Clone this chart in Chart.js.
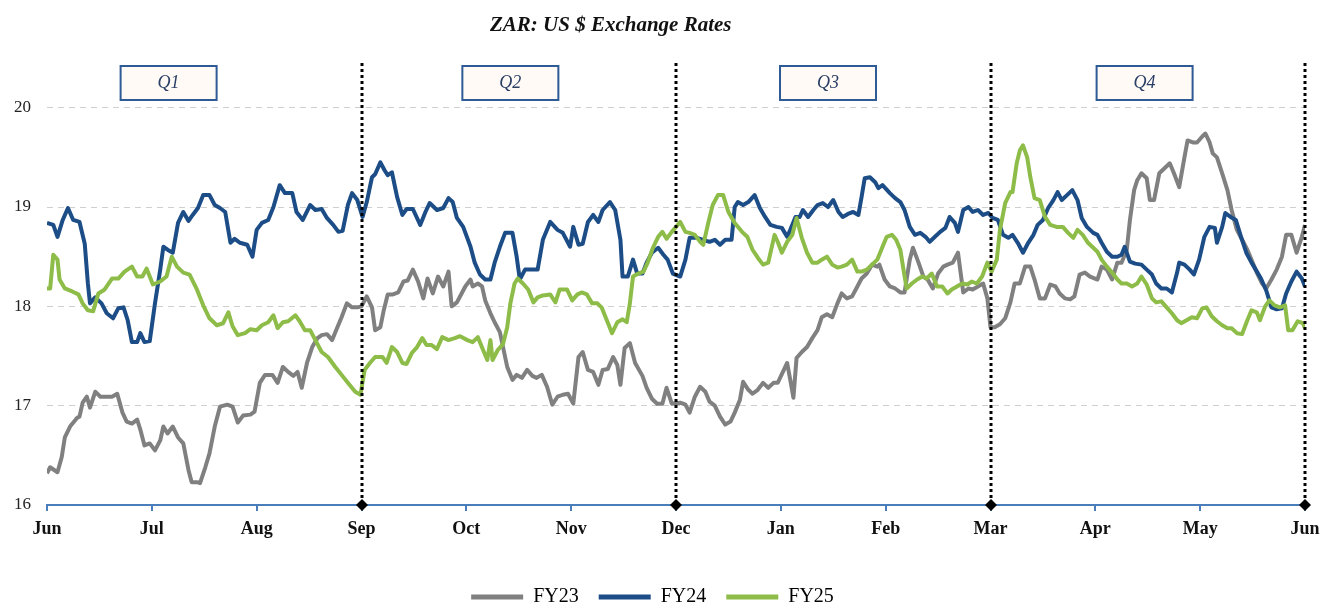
<!DOCTYPE html>
<html>
<head>
<meta charset="utf-8">
<script src="https://cdn.jsdelivr.net/npm/chart.js@4.4.1/dist/chart.umd.min.js"></script>
<style>
  html, body { margin: 0; padding: 0; background: #fff; }
  #wrap { width: 1335px; height: 606px; }
</style>
</head>
<body>
<div id="wrap"><canvas id="chart" width="1335" height="606"></canvas></div>
<script>
// month axis: 0 = start of Jun, 12 = end of May
const monthLabels = ['Jun', 'Jul', 'Aug', 'Sep', 'Oct', 'Nov', 'Dec', 'Jan', 'Feb', 'Mar', 'Apr', 'May', 'Jun'];
const seriesNames = ['FY23', 'FY24', 'FY25'];
const quarterLabels = ['Q1', 'Q2', 'Q3', 'Q4'];
const quarterEnds = [3, 6, 9, 12];

// [month, ZAR per US$]
const fy23 = [[0.00,16.32],[0.03,16.38],[0.10,16.33],[0.14,16.48],[0.17,16.68],[0.22,16.79],[0.29,16.88],[0.31,16.89],[0.34,17.03],[0.38,17.09],[0.41,16.98],[0.46,17.14],[0.51,17.09],[0.57,17.09],[0.62,17.09],[0.67,17.12],[0.72,16.93],[0.76,16.84],[0.81,16.82],[0.86,16.86],[0.89,16.76],[0.93,16.60],[0.98,16.62],[1.03,16.55],[1.08,16.65],[1.11,16.79],[1.15,16.72],[1.20,16.79],[1.25,16.68],[1.30,16.62],[1.35,16.35],[1.38,16.23],[1.43,16.23],[1.46,16.22],[1.51,16.38],[1.55,16.52],[1.60,16.79],[1.65,16.99],[1.72,17.01],[1.77,16.99],[1.82,16.83],[1.87,16.90],[1.94,16.91],[1.98,16.94],[2.03,17.23],[2.08,17.31],[2.15,17.31],[2.20,17.23],[2.25,17.39],[2.30,17.34],[2.35,17.30],[2.39,17.34],[2.43,17.18],[2.48,17.43],[2.53,17.59],[2.58,17.68],[2.62,17.71],[2.67,17.72],[2.72,17.66],[2.77,17.79],[2.81,17.89],[2.86,18.03],[2.91,17.99],[2.96,17.99],[3.00,18.00],[3.05,18.10],[3.10,17.99],[3.13,17.76],[3.18,17.79],[3.21,17.95],[3.25,18.12],[3.30,18.12],[3.35,18.14],[3.40,18.25],[3.44,18.26],[3.49,18.37],[3.54,18.25],[3.59,18.08],[3.63,18.28],[3.68,18.13],[3.73,18.30],[3.78,18.20],[3.83,18.35],[3.86,18.00],[3.91,18.04],[3.96,18.14],[3.99,18.20],[4.04,18.27],[4.06,18.20],[4.11,18.23],[4.15,18.20],[4.18,18.06],[4.23,17.93],[4.27,17.84],[4.32,17.74],[4.35,17.59],[4.39,17.39],[4.44,17.26],[4.48,17.31],[4.53,17.28],[4.58,17.36],[4.63,17.30],[4.67,17.28],[4.72,17.31],[4.77,17.19],[4.82,17.01],[4.87,17.09],[4.92,17.11],[4.97,17.12],[5.02,17.02],[5.07,17.49],[5.11,17.54],[5.16,17.36],[5.21,17.34],[5.26,17.21],[5.30,17.36],[5.35,17.37],[5.40,17.49],[5.44,17.41],[5.47,17.21],[5.51,17.58],[5.56,17.63],[5.61,17.43],[5.68,17.30],[5.72,17.18],[5.77,17.07],[5.82,17.02],[5.87,17.02],[5.91,17.18],[5.96,17.02],[6.04,17.03],[6.09,17.01],[6.13,16.93],[6.18,17.09],[6.23,17.19],[6.28,17.14],[6.32,17.04],[6.37,17.00],[6.42,16.89],[6.47,16.81],[6.52,16.84],[6.56,16.93],[6.61,17.06],[6.64,17.24],[6.69,17.16],[6.73,17.12],[6.78,17.16],[6.83,17.23],[6.88,17.18],[6.93,17.23],[6.97,17.23],[7.02,17.34],[7.06,17.43],[7.09,17.26],[7.12,17.08],[7.15,17.48],[7.20,17.54],[7.25,17.59],[7.30,17.68],[7.35,17.76],[7.39,17.89],[7.44,17.92],[7.49,17.89],[7.54,18.03],[7.58,18.13],[7.63,18.08],[7.68,18.10],[7.73,18.20],[7.77,18.28],[7.82,18.33],[7.87,18.42],[7.92,18.40],[7.94,18.42],[7.99,18.27],[8.04,18.20],[8.09,18.18],[8.14,18.14],[8.18,18.14],[8.23,18.47],[8.26,18.59],[8.31,18.45],[8.36,18.30],[8.40,18.27],[8.45,18.18],[8.50,18.33],[8.55,18.40],[8.59,18.42],[8.64,18.44],[8.69,18.54],[8.74,18.14],[8.79,18.18],[8.83,18.17],[8.88,18.20],[8.93,18.23],[8.97,18.08],[9.00,17.79],[9.04,17.79],[9.09,17.82],[9.14,17.88],[9.19,18.04],[9.23,18.23],[9.28,18.23],[9.33,18.40],[9.38,18.40],[9.42,18.27],[9.47,18.08],[9.52,18.08],[9.57,18.22],[9.62,18.20],[9.66,18.13],[9.71,18.08],[9.76,18.07],[9.80,18.10],[9.85,18.32],[9.90,18.34],[9.95,18.30],[10.02,18.27],[10.06,18.40],[10.11,18.37],[10.16,18.27],[10.21,18.44],[10.25,18.44],[10.30,18.57],[10.33,18.87],[10.37,19.17],[10.40,19.27],[10.44,19.34],[10.49,19.29],[10.52,19.07],[10.56,19.07],[10.61,19.34],[10.66,19.39],[10.71,19.44],[10.75,19.34],[10.80,19.20],[10.85,19.50],[10.88,19.67],[10.93,19.65],[10.97,19.65],[11.02,19.71],[11.05,19.74],[11.09,19.65],[11.12,19.54],[11.16,19.50],[11.21,19.34],[11.26,19.17],[11.30,18.97],[11.35,18.77],[11.40,18.67],[11.45,18.57],[11.49,18.47],[11.54,18.34],[11.59,18.23],[11.63,18.18],[11.68,18.27],[11.73,18.37],[11.78,18.50],[11.82,18.72],[11.87,18.72],[11.92,18.54],[11.97,18.70],[12.00,18.82]];

const fy24 = [[0.00,18.84],[0.06,18.82],[0.10,18.70],[0.15,18.87],[0.20,18.99],[0.25,18.87],[0.31,18.85],[0.36,18.63],[0.39,18.23],[0.41,18.03],[0.46,18.09],[0.52,18.03],[0.57,17.93],[0.63,17.88],[0.68,17.98],[0.73,17.99],[0.77,17.86],[0.81,17.64],[0.86,17.64],[0.89,17.73],[0.93,17.64],[0.98,17.65],[1.03,18.03],[1.08,18.37],[1.11,18.60],[1.15,18.57],[1.20,18.54],[1.25,18.84],[1.30,18.95],[1.35,18.86],[1.39,18.92],[1.44,18.99],[1.49,19.12],[1.55,19.12],[1.60,19.02],[1.65,18.99],[1.70,18.95],[1.75,18.64],[1.79,18.68],[1.84,18.64],[1.91,18.62],[1.96,18.50],[2.00,18.77],[2.05,18.84],[2.11,18.87],[2.16,19.00],[2.22,19.22],[2.27,19.14],[2.34,19.14],[2.38,18.95],[2.44,18.87],[2.51,19.02],[2.56,18.97],[2.62,18.98],[2.67,18.89],[2.73,18.82],[2.78,18.75],[2.82,18.76],[2.87,19.02],[2.91,19.14],[2.96,19.07],[3.01,18.90],[3.05,19.05],[3.10,19.30],[3.13,19.33],[3.18,19.45],[3.22,19.37],[3.25,19.32],[3.29,19.35],[3.34,19.10],[3.39,18.92],[3.43,18.98],[3.49,18.98],[3.56,18.82],[3.61,18.95],[3.65,19.04],[3.72,18.97],[3.78,18.99],[3.83,19.09],[3.87,19.05],[3.91,18.89],[3.97,18.80],[4.04,18.60],[4.08,18.44],[4.13,18.32],[4.18,18.27],[4.23,18.27],[4.27,18.44],[4.32,18.60],[4.37,18.74],[4.44,18.74],[4.48,18.50],[4.51,18.27],[4.56,18.37],[4.63,18.37],[4.68,18.37],[4.73,18.67],[4.80,18.85],[4.87,18.77],[4.92,18.74],[4.99,18.60],[5.02,18.80],[5.07,18.62],[5.11,18.63],[5.16,18.85],[5.21,18.92],[5.26,18.85],[5.30,18.97],[5.37,19.05],[5.42,18.97],[5.47,18.67],[5.49,18.30],[5.54,18.30],[5.59,18.47],[5.63,18.33],[5.68,18.33],[5.72,18.44],[5.77,18.54],[5.83,18.59],[5.88,18.52],[5.92,18.47],[5.97,18.33],[6.04,18.30],[6.09,18.47],[6.13,18.69],[6.20,18.69],[6.26,18.67],[6.32,18.65],[6.37,18.67],[6.42,18.62],[6.47,18.67],[6.53,18.67],[6.56,19.00],[6.59,19.05],[6.64,19.02],[6.69,19.05],[6.75,19.12],[6.80,18.99],[6.85,18.90],[6.90,18.82],[6.96,18.80],[7.01,18.79],[7.06,18.70],[7.09,18.77],[7.14,18.90],[7.18,18.90],[7.21,18.97],[7.26,18.90],[7.31,18.97],[7.35,19.02],[7.40,19.04],[7.45,19.00],[7.50,19.07],[7.55,18.95],[7.59,18.90],[7.64,18.93],[7.69,18.95],[7.74,18.92],[7.77,19.10],[7.80,19.29],[7.85,19.30],[7.90,19.25],[7.93,19.19],[7.97,19.22],[8.04,19.14],[8.09,19.09],[8.14,19.05],[8.18,18.97],[8.23,18.80],[8.28,18.72],[8.33,18.74],[8.38,18.70],[8.42,18.65],[8.47,18.70],[8.52,18.75],[8.57,18.79],[8.61,18.90],[8.66,18.84],[8.69,18.75],[8.74,18.97],[8.79,19.00],[8.83,18.95],[8.88,18.97],[8.93,18.92],[8.98,18.94],[9.02,18.89],[9.07,18.87],[9.12,18.72],[9.17,18.69],[9.21,18.72],[9.26,18.64],[9.31,18.54],[9.36,18.64],[9.41,18.72],[9.45,18.82],[9.50,18.87],[9.55,18.99],[9.60,19.07],[9.64,19.15],[9.68,19.07],[9.73,19.12],[9.78,19.17],[9.83,19.07],[9.87,18.89],[9.92,18.80],[9.98,18.74],[10.02,18.72],[10.06,18.64],[10.11,18.55],[10.16,18.50],[10.21,18.50],[10.25,18.52],[10.28,18.60],[10.33,18.45],[10.38,18.43],[10.44,18.42],[10.49,18.37],[10.54,18.32],[10.58,18.23],[10.63,18.18],[10.68,18.18],[10.73,18.14],[10.78,18.34],[10.80,18.44],[10.85,18.42],[10.90,18.37],[10.94,18.32],[10.99,18.47],[11.04,18.70],[11.09,18.80],[11.14,18.79],[11.16,18.64],[11.21,18.80],[11.24,18.94],[11.29,18.90],[11.34,18.87],[11.39,18.70],[11.44,18.54],[11.49,18.44],[11.53,18.37],[11.58,18.28],[11.63,18.16],[11.68,17.99],[11.73,17.97],[11.78,17.98],[11.82,18.13],[11.87,18.25],[11.92,18.35],[11.97,18.28],[12.00,18.20]];

const fy25 = [[0.00,18.18],[0.03,18.18],[0.06,18.52],[0.10,18.47],[0.12,18.27],[0.17,18.18],[0.24,18.15],[0.30,18.12],[0.34,18.03],[0.39,17.96],[0.44,17.95],[0.49,18.13],[0.55,18.17],[0.62,18.28],[0.68,18.28],[0.74,18.35],[0.81,18.40],[0.86,18.30],[0.91,18.30],[0.95,18.38],[1.01,18.22],[1.08,18.25],[1.14,18.30],[1.19,18.50],[1.24,18.40],[1.30,18.34],[1.36,18.32],[1.43,18.17],[1.49,18.01],[1.55,17.88],[1.62,17.81],[1.68,17.83],[1.73,17.94],[1.77,17.80],[1.82,17.71],[1.89,17.73],[1.94,17.77],[2.00,17.76],[2.05,17.81],[2.11,17.84],[2.16,17.91],[2.20,17.78],[2.25,17.84],[2.30,17.85],[2.37,17.91],[2.41,17.85],[2.46,17.76],[2.51,17.76],[2.56,17.66],[2.62,17.54],[2.68,17.49],[2.75,17.39],[2.81,17.31],[2.87,17.23],[2.94,17.14],[2.99,17.11],[3.03,17.36],[3.08,17.43],[3.13,17.49],[3.20,17.49],[3.24,17.43],[3.29,17.59],[3.34,17.54],[3.39,17.43],[3.43,17.42],[3.48,17.53],[3.53,17.59],[3.58,17.68],[3.62,17.61],[3.67,17.61],[3.72,17.57],[3.77,17.69],[3.83,17.66],[3.89,17.68],[3.94,17.70],[4.01,17.66],[4.06,17.64],[4.11,17.69],[4.16,17.56],[4.20,17.46],[4.23,17.66],[4.25,17.46],[4.30,17.56],[4.35,17.62],[4.39,17.79],[4.42,18.03],[4.46,18.23],[4.49,18.28],[4.54,18.23],[4.59,18.17],[4.64,18.04],[4.68,18.09],[4.73,18.11],[4.80,18.12],[4.85,18.04],[4.89,18.17],[4.96,18.17],[5.01,18.06],[5.06,18.12],[5.10,18.14],[5.15,18.12],[5.20,18.03],[5.25,18.03],[5.29,17.99],[5.34,17.86],[5.39,17.73],[5.44,17.84],[5.49,17.87],[5.53,17.84],[5.56,18.03],[5.59,18.30],[5.64,18.33],[5.69,18.35],[5.73,18.44],[5.78,18.59],[5.83,18.70],[5.87,18.75],[5.91,18.68],[5.96,18.75],[6.04,18.85],[6.09,18.75],[6.13,18.74],[6.18,18.72],[6.23,18.65],[6.26,18.62],[6.31,18.85],[6.35,19.02],[6.40,19.12],[6.45,19.12],[6.50,18.95],[6.56,18.84],[6.63,18.75],[6.68,18.70],[6.73,18.57],[6.78,18.49],[6.83,18.42],[6.88,18.44],[6.94,18.72],[6.97,18.65],[7.01,18.54],[7.06,18.65],[7.11,18.72],[7.15,18.89],[7.20,18.69],[7.25,18.54],[7.30,18.44],[7.35,18.44],[7.39,18.47],[7.44,18.50],[7.49,18.42],[7.54,18.39],[7.58,18.40],[7.63,18.42],[7.68,18.47],[7.73,18.35],[7.77,18.35],[7.82,18.37],[7.87,18.42],[7.92,18.47],[7.97,18.60],[8.01,18.70],[8.06,18.72],[8.10,18.67],[8.14,18.57],[8.17,18.37],[8.20,18.18],[8.25,18.23],[8.30,18.27],[8.35,18.30],[8.39,18.28],[8.44,18.33],[8.49,18.20],[8.54,18.20],[8.59,18.13],[8.63,18.17],[8.68,18.20],[8.73,18.23],[8.78,18.22],[8.82,18.25],[8.87,18.23],[8.92,18.30],[8.97,18.44],[9.01,18.35],[9.06,18.47],[9.09,18.77],[9.14,19.04],[9.19,19.15],[9.21,19.15],[9.25,19.44],[9.28,19.57],[9.31,19.62],[9.35,19.50],[9.38,19.30],[9.42,19.09],[9.47,19.07],[9.52,18.90],[9.57,18.82],[9.63,18.80],[9.69,18.80],[9.74,18.74],[9.79,18.69],[9.83,18.77],[9.88,18.72],[9.93,18.64],[10.02,18.55],[10.06,18.47],[10.11,18.40],[10.16,18.34],[10.21,18.27],[10.25,18.23],[10.30,18.23],[10.35,18.20],[10.40,18.23],[10.44,18.30],[10.49,18.22],[10.54,18.08],[10.58,18.04],[10.63,18.05],[10.68,17.99],[10.73,17.93],[10.78,17.86],[10.82,17.83],[10.87,17.86],[10.92,17.89],[10.97,17.88],[11.02,17.98],[11.06,17.99],[11.11,17.90],[11.16,17.85],[11.21,17.81],[11.26,17.78],[11.30,17.78],[11.35,17.73],[11.40,17.72],[11.45,17.86],[11.49,17.96],[11.54,17.94],[11.57,17.86],[11.62,18.00],[11.66,18.06],[11.71,18.01],[11.76,17.99],[11.81,18.01],[11.84,17.76],[11.88,17.76],[11.93,17.85],[11.98,17.83],[12.00,17.78]];

const seriesData = [fy23, fy24, fy25];
const seriesColors = ['#808080', '#1c4d87', '#8dbd48'];

const serif = "'Liberation Serif', 'Times New Roman', serif";

// quarter boxes sit roughly one third into each quarter
const quarterBoxCentres = [1.16, 4.42, 7.45, 10.47];

const chartTitle = {
    id: 'chartTitle',
    afterDraw(chart) {
        const ctx = chart.ctx;
        ctx.save();
        ctx.font = 'italic bold 21px ' + serif;
        ctx.fillStyle = '#111';
        ctx.textAlign = 'left';
        ctx.textBaseline = 'alphabetic';
        ctx.fillText('ZAR: US $ Exchange Rates', 490, 31);
        ctx.restore();
    }
};

// dotted quarter dividers with diamond markers on the axis
const quarterLines = {
    id: 'quarterLines',
    afterDatasetsDraw(chart) {
        const ctx = chart.ctx;
        const x = chart.scales.x;
        const area = chart.chartArea;
        ctx.save();
        quarterEnds.forEach(q => {
            const px = Math.round(x.getPixelForValue(q));
            ctx.strokeStyle = '#000';
            ctx.lineWidth = 3;
            ctx.setLineDash([3, 3]);
            ctx.beginPath();
            ctx.moveTo(px, area.top);
            ctx.lineTo(px, area.bottom);
            ctx.stroke();
            ctx.setLineDash([]);
            ctx.fillStyle = '#000';
            ctx.beginPath();
            ctx.moveTo(px, area.bottom - 6);
            ctx.lineTo(px + 6, area.bottom);
            ctx.lineTo(px, area.bottom + 6);
            ctx.lineTo(px - 6, area.bottom);
            ctx.closePath();
            ctx.fill();
        });
        ctx.restore();
    }
};

const quarterBoxes = {
    id: 'quarterBoxes',
    afterDraw(chart) {
        const ctx = chart.ctx;
        const x = chart.scales.x;
        const top = chart.chartArea.top + 3;
        ctx.save();
        quarterLabels.forEach((label, i) => {
            const cx = x.getPixelForValue(quarterBoxCentres[i]);
            ctx.fillStyle = '#fffaf6';
            ctx.fillRect(cx - 48, top, 96, 34);
            ctx.strokeStyle = '#2e5a96';
            ctx.lineWidth = 2;
            ctx.strokeRect(cx - 48, top, 96, 34);
            ctx.fillStyle = '#2a3f66';
            ctx.font = 'italic 18px ' + serif;
            ctx.textAlign = 'center';
            ctx.textBaseline = 'middle';
            ctx.fillText(label, cx, top + 17);
        });
        ctx.restore();
    }
};

new Chart(document.getElementById('chart'), {
    type: 'line',
    data: {
        datasets: seriesNames.map((name, i) => ({
            label: name,
            data: seriesData[i].map(p => ({ x: p[0], y: p[1] })),
            borderColor: seriesColors[i],
            backgroundColor: seriesColors[i],
            borderWidth: 4,
            borderJoinStyle: 'round',
            pointRadius: 0,
            tension: 0,
            order: 3 - i
        }))
    },
    options: {
        responsive: false,
        animation: false,
        layout: { padding: { top: 63, right: 30, bottom: -11, left: 0 } },
        plugins: {
            tooltip: { enabled: false },
            legend: {
                position: 'bottom',
                labels: {
                    font: { family: serif, size: 20 },
                    color: '#222',
                    boxWidth: 52,
                    boxHeight: 5,
                    padding: 20,
                    generateLabels: chart => chart.data.datasets.map((d, i) => ({
                        text: d.label,
                        fillStyle: d.borderColor,
                        strokeStyle: d.borderColor,
                        lineWidth: 0,
                        datasetIndex: i,
                        hidden: false
                    }))
                }
            }
        },
        scales: {
            x: {
                type: 'linear',
                min: 0,
                max: 12,
                afterFit: scale => { scale.height = 62; },
                grid: { drawOnChartArea: false, drawTicks: true, tickLength: 6, color: '#4a7ebb', lineWidth: 2 },
                border: { display: true, color: '#4a7ebb', width: 2 },
                ticks: {
                    stepSize: 1,
                    autoSkip: false,
                    maxRotation: 0,
                    padding: 8,
                    color: '#111',
                    font: { family: serif, size: 18, weight: 'bold' },
                    callback: v => monthLabels[v]
                }
            },
            y: {
                min: 16,
                max: 20.45,
                afterBuildTicks: scale => {
                    scale.ticks = scale.ticks.filter(t => Number.isInteger(t.value) && t.value <= 20);
                },
                afterFit: scale => { scale.width = 47; },
                grid: { color: '#cfcfcf', lineWidth: 1, drawTicks: false },
                border: { display: false, dash: [6, 5] },
                ticks: {
                    stepSize: 1,
                    padding: 16,
                    color: '#222',
                    font: { family: serif, size: 17 }
                }
            }
        }
    },
    plugins: [chartTitle, quarterLines, quarterBoxes]
});
</script>
</body>
</html>
